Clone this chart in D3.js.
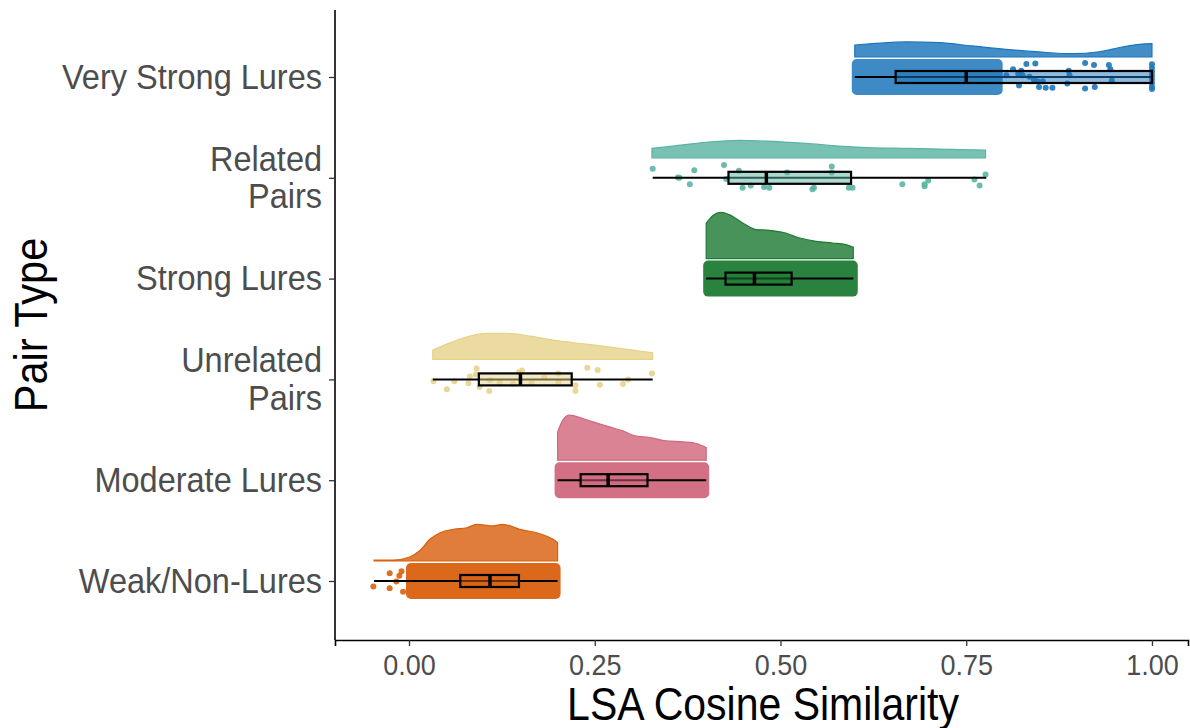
<!DOCTYPE html>
<html>
<head>
<meta charset="utf-8">
<script src="https://cdn.jsdelivr.net/npm/d3@7"></script>
<style>
  body { margin: 0; background: #fff; }
  svg { display: block; font-family: "Liberation Sans", Arial, Helvetica, sans-serif; }
</style>
</head>
<body>
<svg id="chart" width="1190" height="728"></svg>
<script>
// categories, top to bottom
const pairTypes = ["Very Strong Lures", "Related Pairs", "Strong Lures", "Unrelated Pairs", "Moderate Lures", "Weak/Non-Lures"];
const colors = ["#1b75bb", "#5bb5a2", "#1e7b34", "#e6d38b", "#d1687e", "#d9600f"];

// boxplot stats
const whiskerLo = [0.600, 0.328, 0.400, 0.032, 0.200, -0.047];
const q1 = [0.655, 0.430, 0.426, 0.094, 0.231, 0.069];
const median = [0.750, 0.481, 0.465, 0.150, 0.268, 0.109];
const q3 = [1.000, 0.595, 0.515, 0.219, 0.321, 0.148];
const whiskerHi = [1.000, 0.777, 0.598, 0.328, 0.400, 0.200];

// half-violin densities: [x, density]
const densVeryStrong = [[0.600, 1.50], [0.624, 1.66], [0.669, 1.88], [0.714, 1.79], [0.758, 1.38], [0.803, 0.96], [0.848, 0.63], [0.893, 0.41], [0.929, 0.66], [0.960, 1.25], [0.983, 1.59], [1.000, 1.66]];
const densRelated = [[0.327, 1.18], [0.355, 1.46], [0.400, 1.93], [0.445, 2.18], [0.481, 2.09], [0.534, 1.80], [0.579, 1.46], [0.624, 1.25], [0.669, 1.18], [0.714, 1.09], [0.776, 0.96]];
const densStrong = [[0.400, 4.40], [0.409, 5.38], [0.420, 5.79], [0.431, 5.50], [0.449, 4.45], [0.467, 3.63], [0.485, 3.54], [0.503, 3.29], [0.526, 2.58], [0.548, 2.16], [0.570, 1.95], [0.588, 1.75], [0.598, 1.40]];
const densUnrelated = [[0.032, 1.16], [0.051, 1.91], [0.078, 2.83], [0.105, 3.25], [0.132, 3.25], [0.163, 2.91], [0.194, 2.41], [0.239, 1.91], [0.284, 1.38], [0.328, 0.83]];
const densModerate = [[0.200, 3.50], [0.207, 5.00], [0.216, 5.63], [0.234, 5.21], [0.252, 4.66], [0.270, 4.16], [0.288, 3.66], [0.306, 3.00], [0.324, 2.84], [0.346, 2.41], [0.369, 2.29], [0.387, 2.09], [0.400, 1.59]];
const densWeak = [[-0.047, 0.12], [-0.021, 0.12], [0.001, 0.50], [0.015, 1.34], [0.028, 2.71], [0.042, 3.54], [0.060, 3.96], [0.078, 4.16], [0.091, 4.59], [0.113, 4.38], [0.126, 4.59], [0.149, 3.96], [0.176, 3.41], [0.194, 2.71], [0.200, 2.30]];
const densities = [densVeryStrong, densRelated, densStrong, densUnrelated, densModerate, densWeak];

// ranges where the jittered points merge into a solid cloud [from, to]
const cloudRanges = [[0.600, 0.795], null, [0.400, 0.600], null, [0.200, 0.400], [0.000, 0.200]];

// individual visible points: [x, jitter (-1..1)]
const ptsVeryStrong = [[0.804, -0.12], [0.813, -0.51], [0.820, -0.22], [0.824, -0.41], [0.826, -0.12], [0.831, -0.87], [0.843, -0.90], [0.835, -0.02], [0.841, 0.18], [0.846, 0.28], [0.853, 0.28], [0.857, 0.71], [0.866, 0.71], [0.848, 0.66], [0.821, 0.57], [0.888, -0.41], [0.889, -0.12], [0.886, 0.43], [0.910, -0.94], [0.922, -0.80], [0.942, -0.80], [0.944, -0.51], [0.946, 0.24], [0.910, 0.76], [0.923, 0.66], [1.0, -0.85], [1.0, -0.60], [1.0, -0.35], [1.0, -0.10], [1.0, 0.15], [1.0, 0.40], [1.0, 0.65], [1.0, 0.80]];
const ptsRelated = [[0.328, -0.61], [0.362, -0.02], [0.364, 0.00], [0.384, -0.51], [0.378, 0.43], [0.424, -0.86], [0.444, -0.47], [0.427, 0.08], [0.449, 0.66], [0.460, 0.51], [0.478, 0.61], [0.485, 0.66], [0.509, -0.35], [0.545, 0.66], [0.543, 0.76], [0.569, -0.75], [0.569, -0.35], [0.592, 0.66], [0.597, 0.66], [0.664, 0.43], [0.694, 0.43], [0.694, 0.57], [0.699, 0.18], [0.761, 0.12], [0.768, 0.51], [0.776, -0.22]];
const ptsUnrelated = [[0.033, 0.12], [0.051, 0.65], [0.061, 0.12], [0.080, 0.25], [0.082, -0.19], [0.090, -0.33], [0.091, -0.72], [0.095, 0.51], [0.108, 0.78], [0.109, 0.06], [0.122, 0.22], [0.140, 0.31], [0.148, -0.47], [0.152, -0.59], [0.165, 0.25], [0.182, -0.14], [0.201, -0.39], [0.201, 0.16], [0.224, 0.39], [0.224, 0.78], [0.240, -0.78], [0.254, -0.63], [0.257, 0.35], [0.288, 0.31], [0.295, 0.00], [0.327, -0.39]];
const ptsWeak = [[-0.026, -0.51], [-0.048, 0.37], [-0.026, 0.49], [-0.013, -0.35], [-0.010, -0.65], [-0.017, 0.04], [-0.008, 0.71]];
const points = [ptsVeryStrong, ptsRelated, [], ptsUnrelated, [], ptsWeak];

const xTicks = [0, 0.25, 0.5, 0.75, 1.0];

const svg = d3.select("#chart");
const margin = { left: 335, right: 2, top: 10, bottom: 88 };
const width = +svg.attr("width"), height = +svg.attr("height");

const x = d3.scaleLinear().domain([-0.0996, 1.0485]).range([margin.left, width - margin.right]);
const y = d3.scalePoint().domain(pairTypes).range([77, 581]);
const dens = d3.scaleLinear().domain([0, 6]).range([0, 48]);
const baseOff = 20;   // gap between category line and violin baseline
const jit = 15;       // jitter half height in px
const r = 3;

const g = svg.append("g");

pairTypes.forEach((name, i) => {
  const cy = y(name);
  const col = colors[i];

  // density (cloud)
  const area = d3.area()
    .x(d => x(d[0]))
    .y0(cy - baseOff)
    .y1(d => cy - baseOff - dens(d[1]))
    .curve(d3.curveMonotoneX);
  g.append("path")
    .datum(densities[i])
    .attr("d", area)
    .attr("fill", col)
    .attr("fill-opacity", 0.82)
    .attr("stroke", col)
    .attr("stroke-width", 1.2);

  // rain: solid cloud of overlapping points
  if (cloudRanges[i]) {
    g.append("rect")
      .attr("x", x(cloudRanges[i][0]) - r)
      .attr("width", x(cloudRanges[i][1]) - x(cloudRanges[i][0]) + 2 * r)
      .attr("y", cy - jit - r)
      .attr("height", 2 * (jit + r))
      .attr("rx", 5)
      .attr("fill", col)
      .attr("fill-opacity", i === 0 ? 0.85 : 0.95);
  }
  g.append("g")
    .selectAll("circle")
    .data(points[i])
    .join("circle")
    .attr("cx", d => x(d[0]))
    .attr("cy", d => cy + d[1] * jit)
    .attr("r", r)
    .attr("fill", col)
    .attr("fill-opacity", 0.9);

  // boxplot
  const bh = 6;
  g.append("line")
    .attr("x1", x(whiskerLo[i])).attr("x2", x(whiskerHi[i]))
    .attr("y1", cy).attr("y2", cy)
    .attr("stroke", "#000").attr("stroke-width", 2);
  g.append("rect")
    .attr("x", x(q1[i])).attr("width", x(q3[i]) - x(q1[i]))
    .attr("y", cy - bh).attr("height", 2 * bh)
    .attr("fill", col).attr("fill-opacity", 0.5)
    .attr("stroke", "#000").attr("stroke-width", 2.2);
  g.append("line")
    .attr("x1", x(median[i])).attr("x2", x(median[i]))
    .attr("y1", cy - bh).attr("y2", cy + bh)
    .attr("stroke", "#000").attr("stroke-width", 3.5);
});

// x axis
const xAxis = svg.append("g")
  .attr("transform", `translate(0,${height - margin.bottom})`)
  .call(d3.axisBottom(x).tickValues(xTicks).tickFormat(d3.format(".2f")).tickSizeOuter(0).tickSize(6));
xAxis.select(".domain").attr("stroke-width", 1.6);
xAxis.selectAll(".tick line").attr("stroke", "#333").attr("stroke-width", 1.3);
xAxis.selectAll(".tick text")
  .attr("fill", "#4d4d4d")
  .attr("font-size", 27)
  .attr("y", 0).attr("dy", null)
  .attr("transform", "translate(0,35) scale(1,1.12)");

// y axis
const yAxis = svg.append("g")
  .attr("transform", `translate(${margin.left},0)`)
  .call(d3.axisLeft(y).tickSizeOuter(0).tickSize(6).tickPadding(7));
yAxis.select(".domain").attr("d", `M0,${margin.top}V${height - margin.bottom}`).attr("stroke-width", 1.6);
yAxis.selectAll(".tick line").attr("stroke", "#333").attr("stroke-width", 1.3);
yAxis.selectAll(".tick text")
  .attr("fill", "#4d4d4d")
  .attr("font-size", 32.5)
  .attr("transform", "scale(1,1.07)")
  .each(function (d) {
    const t = d3.select(this);
    const parts = d.split(" Pairs").length > 1 ? [d.replace(" Pairs", ""), "Pairs"] : [d];
    if (parts.length > 1) {
      t.text(null);
      t.attr("dy", null);
      parts.forEach((p, k) => {
        t.append("tspan").attr("x", -13).attr("dy", k === 0 ? "-0.22em" : "1.08em").text(p);
      });
    }
  });

// titles
svg.append("text")
  .attr("transform", "translate(763,720) scale(1,1.12)")
  .attr("text-anchor", "middle")
  .attr("font-size", 41)
  .attr("fill", "#000")
  .text("LSA Cosine Similarity");
svg.append("text")
  .attr("transform", `translate(47,${(margin.top + height - margin.bottom) / 2}) rotate(-90) scale(1,1.1)`)
  .attr("text-anchor", "middle")
  .attr("font-size", 41.5)
  .attr("fill", "#000")
  .text("Pair Type");
</script>
</body>
</html>
